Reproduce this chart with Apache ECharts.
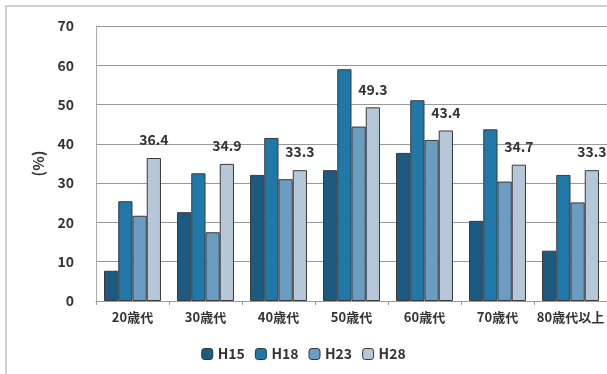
<!DOCTYPE html>
<html>
<head>
<meta charset="utf-8">
<script src="https://cdn.jsdelivr.net/npm/echarts@6/dist/echarts.min.js"></script>
<style>
html,body{margin:0;padding:0;background:#fff;}
#frame{position:absolute;left:5px;top:5px;width:640px;height:380px;border:2px solid #cfcfcf;border-right:none;border-bottom:none;box-sizing:border-box;}
#chart{position:absolute;left:0;top:0;width:607px;height:374px;}
</style>
</head>
<body>
<div id="frame"></div>
<div id="chart"></div>
<script>
// Age groups and survey years
const categories = ['20歳代', '30歳代', '40歳代', '50歳代', '60歳代', '70歳代', '80歳代以上'];
const seriesNames = ['H15', 'H18', 'H23', 'H28'];
const h15 = [7.7, 22.6, 32.1, 33.3, 37.7, 20.4, 12.8];
const h18 = [25.4, 32.5, 41.5, 59.0, 51.1, 43.7, 32.1];
const h23 = [21.7, 17.5, 31.0, 44.4, 41.0, 30.4, 25.1];
const h28 = [36.4, 34.9, 33.3, 49.3, 43.4, 34.7, 33.3];
const yTicks = [0, 10, 20, 30, 40, 50, 60, 70];

const colors = ['#1d5a82', '#1f78a8', '#6b9cc2', '#b6c7d9'];
const values = [h15, h18, h23, h28];

const chart = echarts.init(document.getElementById('chart'));
const font = '"Noto Sans CJK JP", "Noto Sans", sans-serif';

const series = seriesNames.map((name, i) => ({
  name: name,
  type: 'bar',
  data: values[i],
  barGap: '0%',
  barCategoryGap: '22%',
  itemStyle: { color: colors[i], borderColor: '#3a3a3a', borderWidth: 1 },
  label: i === 3 ? {
    show: true,
    position: 'top',
    offset: [0, -6],
    color: '#333',
    fontWeight: 'bold',
    fontSize: 14,
    fontFamily: font
  } : { show: false }
}));

chart.setOption({
  animation: false,
  color: colors,
  grid: { left: 96, right: -4, top: 26, bottom: 73, containLabel: false },
  legend: {
    bottom: 8,
    left: 'center',
    itemWidth: 11,
    itemHeight: 11,
    itemGap: 10,
    textStyle: { fontSize: 14, fontWeight: 'bold', color: '#333', fontFamily: font },
    data: seriesNames.map((n, i) => ({ name: n, itemStyle: { borderColor: '#333', borderWidth: 1 } }))
  },
  xAxis: {
    type: 'category',
    data: categories,
    axisLine: { lineStyle: { color: '#999' } },
    axisTick: { show: true, length: 4, lineStyle: { color: '#999' } },
    axisLabel: { color: '#333', fontWeight: 'bold', fontSize: 13, fontFamily: font, margin: 10, interval: 0 }
  },
  yAxis: {
    type: 'value',
    min: yTicks[0],
    max: yTicks[yTicks.length - 1],
    interval: 10,
    name: '(%)',
    nameLocation: 'middle',
    nameRotate: 90,
    nameGap: 50,
    nameTextStyle: { color: '#333', fontWeight: 'bold', fontSize: 15, fontFamily: font },
    axisLine: { show: true, lineStyle: { color: '#aaa' } },
    axisTick: { show: false },
    axisLabel: { color: '#333', fontWeight: 'bold', fontSize: 14, fontFamily: font, margin: 22 },
    splitLine: { lineStyle: { color: '#999' } }
  },
  series: series
});
</script>
</body>
</html>
